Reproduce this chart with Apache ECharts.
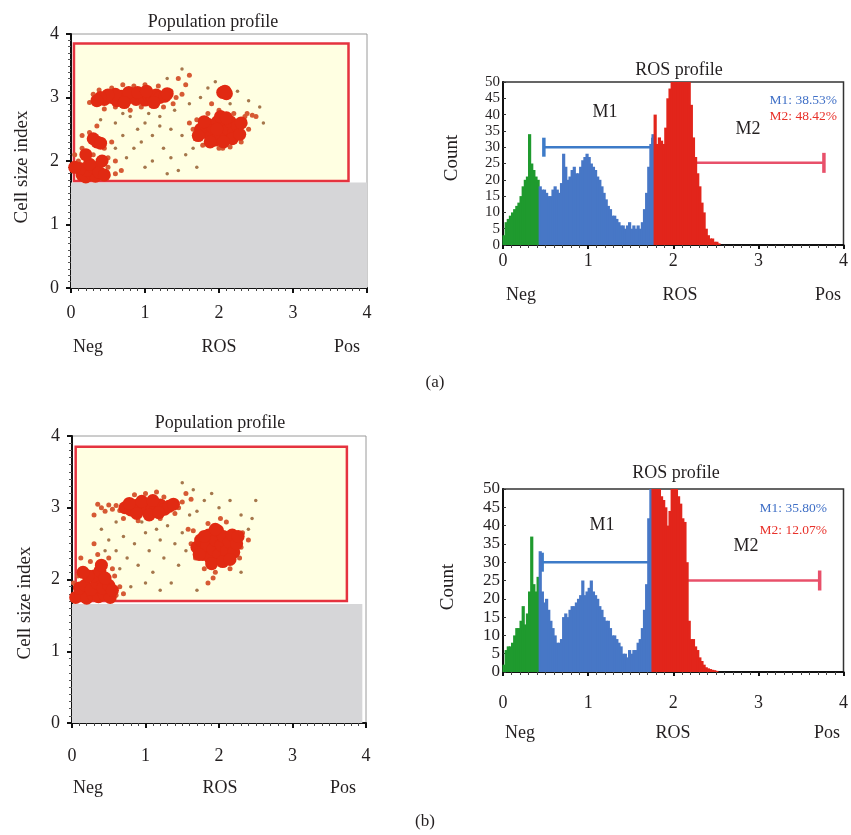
<!DOCTYPE html>
<html><head><meta charset="utf-8">
<script src="https://cdn.jsdelivr.net/npm/echarts@6/dist/echarts.min.js"></script>
<style>html,body{margin:0;padding:0;background:#fff}#c{width:851px;height:835px}</style>
</head><body><div id="c"></div>
<script>
// ---------- DATA ----------
const X_TICKS = [0, 1, 2, 3, 4];
const HIST_Y_TICK_STEP = 5;
const HIST_Y_MAX = 50;
const BIN_WIDTH = 0.025;

// Histogram counts per bin (bin i spans [i*BIN_WIDTH, (i+1)*BIN_WIDTH])
const histCountsA = [3,7,8,9,10,11,12,13,15,18,20,21,34,25,23,21,20,
  18,17,17,16,15,15,17,18,17,16,19,28,24,20,21,23,24,22,22,24,26,27,28,27,25,24,23,21,20,18,16,14,12,11,9,9,8,7,6,6,5,6,7,5,6,5,6,5,7,11,16,24,31,34,
  40,31,33,32,31,36,45,48,50,55,55,55,55,55,55,55,55,43,33,27,22,18,13,10,5,3,2,2,1,1,0.5];
const histCountsB = [2,6,7,7,8,10,12,12,14,18,13,16,22,37,24,22,26,
  33,22,19,20,17,14,12,10,8,8,9,15,16,15,17,18,18,19,20,21,25,21,22,23,25,22,21,20,18,17,15,14,14,12,10,10,9,8,7,5,5,4,6,5,6,6,8,9,12,17,24,42,52,
  55,55,55,52,48,47,45,40,44,52,55,55,48,46,42,41,30,14,9,9,7,6,4,3,2,1.3,1,0.8,0.6,0.5,0.3];
// gate boundaries (ROS)
const gatesA = [0.425, 1.775];
const gatesB = [0.425, 1.75];
// markers M1/M2: [start, end, count]
const markerM1A = [0.48, 1.76, 30];
const markerM2A = [1.78, 3.77, 25.2];
const markerM1B = [0.46, 1.74, 30];
const markerM2B = [1.76, 3.72, 25];
const statsA = ['M1: 38.53%', 'M2: 48.42%'];
const statsB = ['M1: 35.80%', 'M2: 12.07%'];

// Scatter gates: gray region and population gate [x0,y0,x1,y1]
const grayA = [0, 0, 4, 1.66];
const gateRectA = [0.04, 1.685, 3.75, 3.85];
const grayB = [0, 0, 3.95, 1.66];
const gateRectB = [0.05, 1.70, 3.74, 3.85];

// Scatter points (a)
const coreA = [[0.45,2.97],[0.55,3.0],[0.62,2.95],[0.68,3.02],[0.75,2.98],[0.82,3.03],[0.88,2.97],[0.95,3.02],[1.0,2.96],[1.05,3.03],[1.1,2.98],[1.15,3.04],[1.2,3.0],[1.27,3.02],[0.78,3.08],[0.9,3.08],[1.02,3.1],[0.6,3.05],[1.12,2.92],[0.72,2.92],[1.3,3.06],[0.5,3.04],[0.4,3.0],[0.35,2.95],
  [1.75,2.5],[1.82,2.45],[1.85,2.58],[1.9,2.4],[1.92,2.52],[1.98,2.62],[2.0,2.45],[2.05,2.55],[2.08,2.38],[2.12,2.5],[2.15,2.62],[2.2,2.45],[2.25,2.55],[1.95,2.33],[2.02,2.7],[2.1,2.68],[1.8,2.62],[2.18,2.35],[2.28,2.42],[1.72,2.4],[2.3,2.6],[1.88,2.3],[2.06,2.3],[1.97,2.5],
  [2.05,3.08],[2.1,3.06],[2.08,3.1],
  [0.15,1.78],[0.2,1.75],[0.28,1.8],[0.33,1.76],[0.22,1.85],[0.3,1.9],[0.38,1.82],[0.12,1.88],[0.25,1.95],[0.35,2.3],[0.3,2.35],[0.4,2.28],[0.2,2.1],[0.42,2.0],[0.05,1.9],[0.45,1.78]];
const fringeA = [[0.3,3.05],[0.25,2.92],[0.38,3.12],[0.55,3.15],[0.7,3.2],[0.85,3.18],[1.0,3.2],[1.18,3.18],[1.35,3.1],[1.42,3.0],[1.5,3.05],[1.38,2.9],[0.95,2.85],[0.6,2.85],[0.8,2.8],[1.25,2.85],[0.45,2.82],[1.55,3.2],[1.6,3.35],[1.45,3.3],
  [1.65,2.5],[1.68,2.35],[1.7,2.65],[2.35,2.7],[2.4,2.5],[2.38,2.75],[2.45,2.72],[2.2,2.75],[2.0,2.8],[1.85,2.75],[1.78,2.25],[2.0,2.2],[2.15,2.22],[2.3,2.3],[1.6,2.6],[2.5,2.7],[1.9,2.9],[2.05,2.2],
  [0.1,2.0],[0.15,2.2],[0.3,2.1],[0.5,2.05],[0.45,2.2],[0.25,2.45],[0.55,2.3],[0.6,1.8],[0.5,1.9],[0.35,2.55],[0.05,2.1],[0.15,2.4],[0.6,2.0],[0.68,1.85]];
const sparseA = [[0.6,2.6],[0.7,2.4],[0.8,2.7],[0.9,2.5],[0.85,2.2],[1.0,2.6],[1.1,2.4],[1.2,2.7],[1.25,2.2],[1.35,2.5],[1.4,2.8],[1.5,2.4],[1.55,2.1],[1.45,1.85],[1.3,1.8],[1.1,2.0],[0.95,2.3],[0.75,2.05],[1.6,2.9],[1.75,3.0],[1.85,3.15],[1.95,3.25],[2.25,3.1],[2.4,2.95],[2.55,2.85],[2.6,2.6],[1.5,3.45],[1.3,3.3],[0.6,2.2],[1.0,1.9],[1.65,2.2],[1.7,1.9],[1.2,2.55],[0.4,2.65],[2.15,2.9],[1.35,2.05],[1.05,2.75],[0.7,2.75]];

// Scatter points (b)
const coreB = [[0.72,3.0],[0.8,2.97],[0.86,3.03],[0.92,2.98],[0.98,3.04],[1.03,2.97],[1.08,3.02],[1.14,2.99],[1.2,3.04],[1.26,2.98],[1.32,3.02],[0.95,3.09],[1.1,3.1],[0.88,2.92],[1.05,2.9],[1.18,2.93],[0.78,3.06],[1.38,3.05],
  [1.7,2.45],[1.75,2.55],[1.78,2.35],[1.83,2.48],[1.86,2.62],[1.88,2.3],[1.92,2.42],[1.95,2.55],[1.98,2.68],[2.0,2.35],[2.03,2.48],[2.06,2.6],[2.1,2.4],[2.14,2.52],[2.18,2.62],[2.2,2.38],[2.24,2.5],[1.9,2.22],[2.05,2.25],[1.95,2.7],[1.8,2.6],[2.15,2.28],[1.73,2.35],[2.26,2.6],
  [0.05,1.75],[0.12,1.78],[0.2,1.74],[0.28,1.8],[0.36,1.76],[0.44,1.79],[0.52,1.75],[0.1,1.88],[0.18,1.92],[0.26,1.86],[0.34,1.95],[0.42,1.88],[0.5,1.92],[0.3,2.05],[0.38,2.12],[0.45,2.02],[0.22,2.05],[0.55,1.85],[0.15,2.1],[0.4,2.2]];
const fringeB = [[0.4,3.0],[0.45,2.95],[0.5,3.04],[0.55,2.98],[0.6,3.03],[0.65,2.96],[0.35,3.05],[1.45,3.0],[1.5,3.08],[1.4,2.92],[0.85,3.18],[1.0,3.2],[1.15,3.22],[1.25,3.15],[0.7,2.85],[0.9,2.82],[1.2,2.85],[1.55,3.2],[1.62,3.12],[0.3,2.9],
  [1.62,2.5],[1.65,2.68],[1.68,2.3],[2.3,2.45],[2.32,2.65],[2.28,2.3],[1.85,2.78],[2.1,2.8],[1.95,2.1],[2.15,2.15],[1.8,2.15],[2.4,2.55],[1.58,2.7],[2.02,2.85],[1.85,1.95],[1.92,2.02],
  [0.02,1.95],[0.08,2.05],[0.58,2.05],[0.6,1.78],[0.65,1.9],[0.25,2.25],[0.5,2.3],[0.35,2.35],[0.12,2.3],[0.55,2.15],[0.7,1.8],[0.3,2.5]];
const sparseB = [[0.4,2.7],[0.5,2.55],[0.6,2.4],[0.7,2.6],[0.75,2.3],[0.85,2.5],[0.9,2.2],[1.0,2.65],[1.05,2.4],[1.1,2.1],[1.2,2.55],[1.25,2.3],[1.3,2.75],[1.4,2.5],[1.45,2.2],[1.5,2.65],[1.55,2.4],[1.35,1.95],[1.2,1.85],[1.0,1.95],[0.8,1.9],[1.6,2.9],[1.7,2.95],[1.8,3.1],[1.9,3.2],[2.0,3.0],[2.15,3.1],[2.3,2.9],[2.45,2.85],[2.5,3.1],[2.4,2.7],[1.5,3.35],[1.65,3.25],[0.95,2.8],[0.6,2.8],[0.45,2.4],[1.15,2.7],[0.65,2.15],[2.3,2.1],[1.7,1.85]];

// ---------- STYLE ----------
const FONT = '"Liberation Serif", "DejaVu Serif", serif';
const TXT = '#231f20';
const GREEN = '#1f9a2e', BLUE = '#4777c6', RED = '#e2251b';
const M1C = '#3d7bc8', M2C = '#e8506a';

const chart = echarts.init(document.getElementById('c'), null, {renderer: 'canvas'});

function intLabel(v) { return X_TICKS.indexOf(v) >= 0 ? String(v) : ''; }

function scatterX(gi, margin) {
  return {type: 'value', gridIndex: gi, min: 0, max: 4, interval: 1,
    axisLine: {show: true, lineStyle: {color: '#111', width: 2}},
    axisTick: {show: true, length: 5, lineStyle: {color: '#111', width: 2}},
    minorTick: {show: true, splitNumber: 10, length: 3, lineStyle: {color: '#444'}},
    splitLine: {show: false},
    axisLabel: {margin: margin, fontSize: 18, fontFamily: FONT, color: TXT, formatter: intLabel,
      showMinLabel: true, showMaxLabel: true, hideOverlap: false}};
}
function scatterY(gi) {
  return {type: 'value', gridIndex: gi, min: 0, max: 4, interval: 1,
    axisLine: {show: true, lineStyle: {color: '#111', width: 2}},
    axisTick: {show: true, length: 5, lineStyle: {color: '#111', width: 2}},
    minorTick: {show: true, splitNumber: 10, length: 3, lineStyle: {color: '#555'}},
    splitLine: {show: false},
    axisLabel: {margin: 12, fontSize: 18, fontFamily: FONT, color: TXT, formatter: intLabel, padding: [6, 0, 0, 0],
      showMinLabel: true, showMaxLabel: true, hideOverlap: false}};
}
function histX(gi, margin) {
  return {type: 'value', gridIndex: gi, min: 0, max: 4, interval: 1,
    axisLine: {show: true, lineStyle: {color: '#111', width: 2}},
    axisTick: {show: true, length: 4, lineStyle: {color: '#111', width: 2}},
    minorTick: {show: true, splitNumber: 10, length: 3, lineStyle: {color: '#444'}},
    splitLine: {show: false},
    axisLabel: {margin: margin, fontSize: 18, fontFamily: FONT, color: TXT, formatter: intLabel,
      showMinLabel: true, showMaxLabel: true, hideOverlap: false}};
}
function histY(gi, fs) {
  return {type: 'value', gridIndex: gi, min: 0, max: HIST_Y_MAX, interval: HIST_Y_TICK_STEP,
    axisLine: {show: true, lineStyle: {color: '#111', width: 2}},
    axisTick: {show: true, inside: true, length: 3, lineStyle: {color: '#333'}},
    splitLine: {show: false},
    axisLabel: {margin: 3, fontSize: fs, fontFamily: FONT, color: TXT,
      showMinLabel: true, showMaxLabel: true, hideOverlap: false}};
}

function rectArea(r, style) {
  return [{xAxis: r[0], yAxis: r[1], itemStyle: style}, {xAxis: r[2], yAxis: r[3]}];
}

function scatterSeries(gi, core, fringe, sparse, gray, gate) {
  return [
    {type: 'scatter', xAxisIndex: gi, yAxisIndex: gi, data: sparse, symbolSize: 3.5,
      itemStyle: {color: '#a5774c', opacity: 1}, silent: true, z: 3,
      markArea: {silent: true, data: [
        rectArea(gray, {color: '#d6d6d8', opacity: 1}),
        rectArea(gate, {color: '#ffffe2', opacity: 1, borderColor: '#e5333f', borderWidth: 2.5})]}},
    {type: 'scatter', xAxisIndex: gi, yAxisIndex: gi, data: fringe, symbolSize: 5,
      itemStyle: {color: '#d65a34', opacity: 1}, silent: true, z: 4},
    {type: 'scatter', xAxisIndex: gi, yAxisIndex: gi, data: core, symbolSize: 13,
      itemStyle: {color: '#e12a12', opacity: 1}, silent: true, z: 5}
  ];
}

function histSeries(gi, counts, gates, m1, m2) {
  const data = counts.map((v, i) => [(i + 0.5) * BIN_WIDTH, v]);
  return [
    {type: 'line', xAxisIndex: gi, yAxisIndex: gi, data: [[m1[0], m1[2]], [m1[1], m1[2]]],
      symbol: 'none', lineStyle: {color: M1C, width: 2.5}, silent: true, z: 1},
    {type: 'line', xAxisIndex: gi, yAxisIndex: gi, data: [[m2[0], m2[2]], [m2[1], m2[2]]],
      symbol: 'none', lineStyle: {color: M2C, width: 2.5}, silent: true, z: 1},
    {type: 'scatter', xAxisIndex: gi, yAxisIndex: gi, data: [[m1[0], m1[2]], [m1[1], m1[2]]],
      symbol: 'rect', symbolSize: [3.5, 19], itemStyle: {color: M1C, opacity: 1}, silent: true, z: 1},
    {type: 'scatter', xAxisIndex: gi, yAxisIndex: gi, data: [[m2[0], m2[2]], [m2[1], m2[2]]],
      symbol: 'rect', symbolSize: [3.5, 20], itemStyle: {color: M2C, opacity: 1}, silent: true, z: 1},
    {type: 'bar', xAxisIndex: gi, yAxisIndex: gi, data: data, barWidth: 3.2, clip: true, silent: true, z: 2,
      itemStyle: {color: function (p) {
        const x = p.value[0];
        return x < gates[0] ? GREEN : (x < gates[1] ? BLUE : RED);
      }}}
  ];
}

function txt(x, y, text, size, color, align, rot) {
  return {type: 'text', x: x, y: y, rotation: rot || 0, silent: true, z: 100,
    style: {text: text, font: size + 'px ' + FONT, fill: color || TXT,
      textAlign: align || 'center', textVerticalAlign: 'middle', align: align || 'center', verticalAlign: 'middle'}};
}

const option = {
  animation: false,
  backgroundColor: '#ffffff',
  grid: [
    {left: 71, top: 34, width: 296, height: 254, show: true, borderColor: '#9a9a9a', borderWidth: 1, backgroundColor: '#fff'},
    {left: 503, top: 82, width: 347, height: 163, show: true, borderColor: '#333', borderWidth: 1.5, backgroundColor: '#fff'},
    {left: 72, top: 436, width: 294, height: 287, show: true, borderColor: '#9a9a9a', borderWidth: 1, backgroundColor: '#fff'},
    {left: 503, top: 489, width: 347, height: 183, show: true, borderColor: '#333', borderWidth: 1.5, backgroundColor: '#fff'}
  ],
  xAxis: [scatterX(0, 16), histX(1, 7), scatterX(2, 24), histX(3, 22)],
  yAxis: [scatterY(0), histY(1, 15), scatterY(2), histY(3, 17)],
  series: [].concat(
    scatterSeries(0, coreA, fringeA, sparseA, grayA, gateRectA),
    histSeries(1, histCountsA, gatesA, markerM1A, markerM2A),
    scatterSeries(2, coreB, fringeB, sparseB, grayB, gateRectB),
    histSeries(3, histCountsB, gatesB, markerM1B, markerM2B)
  ),
  graphic: [
    txt(213, 22, 'Population profile', 18),
    txt(22, 167, 'Cell size index', 19, TXT, 'center', Math.PI / 2),
    txt(88, 347, 'Neg', 18), txt(219, 347, 'ROS', 18), txt(347, 347, 'Pos', 18),
    txt(679, 70, 'ROS profile', 18),
    txt(452, 158, 'Count', 19, TXT, 'center', Math.PI / 2),
    txt(521, 295, 'Neg', 18), txt(680, 295, 'ROS', 18), txt(828, 295, 'Pos', 18),
    txt(605, 112, 'M1', 18), txt(748, 129, 'M2', 18),
    txt(837, 100, statsA[0], 13.5, '#3f6fc6', 'right'),
    txt(837, 116, statsA[1], 13.5, '#e8312a', 'right'),
    txt(435, 383, '(a)', 17),

    txt(220, 423, 'Population profile', 18),
    txt(25, 603, 'Cell size index', 19, TXT, 'center', Math.PI / 2),
    txt(88, 788, 'Neg', 18), txt(220, 788, 'ROS', 18), txt(343, 788, 'Pos', 18),
    txt(676, 473, 'ROS profile', 18),
    txt(448, 587, 'Count', 19, TXT, 'center', Math.PI / 2),
    txt(520, 733, 'Neg', 18), txt(673, 733, 'ROS', 18), txt(827, 733, 'Pos', 18),
    txt(602, 525, 'M1', 18), txt(746, 546, 'M2', 18),
    txt(827, 508, statsB[0], 13.5, '#3f6fc6', 'right'),
    txt(827, 530, statsB[1], 13.5, '#e8312a', 'right'),
    txt(425, 822, '(b)', 17)
  ]
};
chart.setOption(option);
</script>
</body></html>
